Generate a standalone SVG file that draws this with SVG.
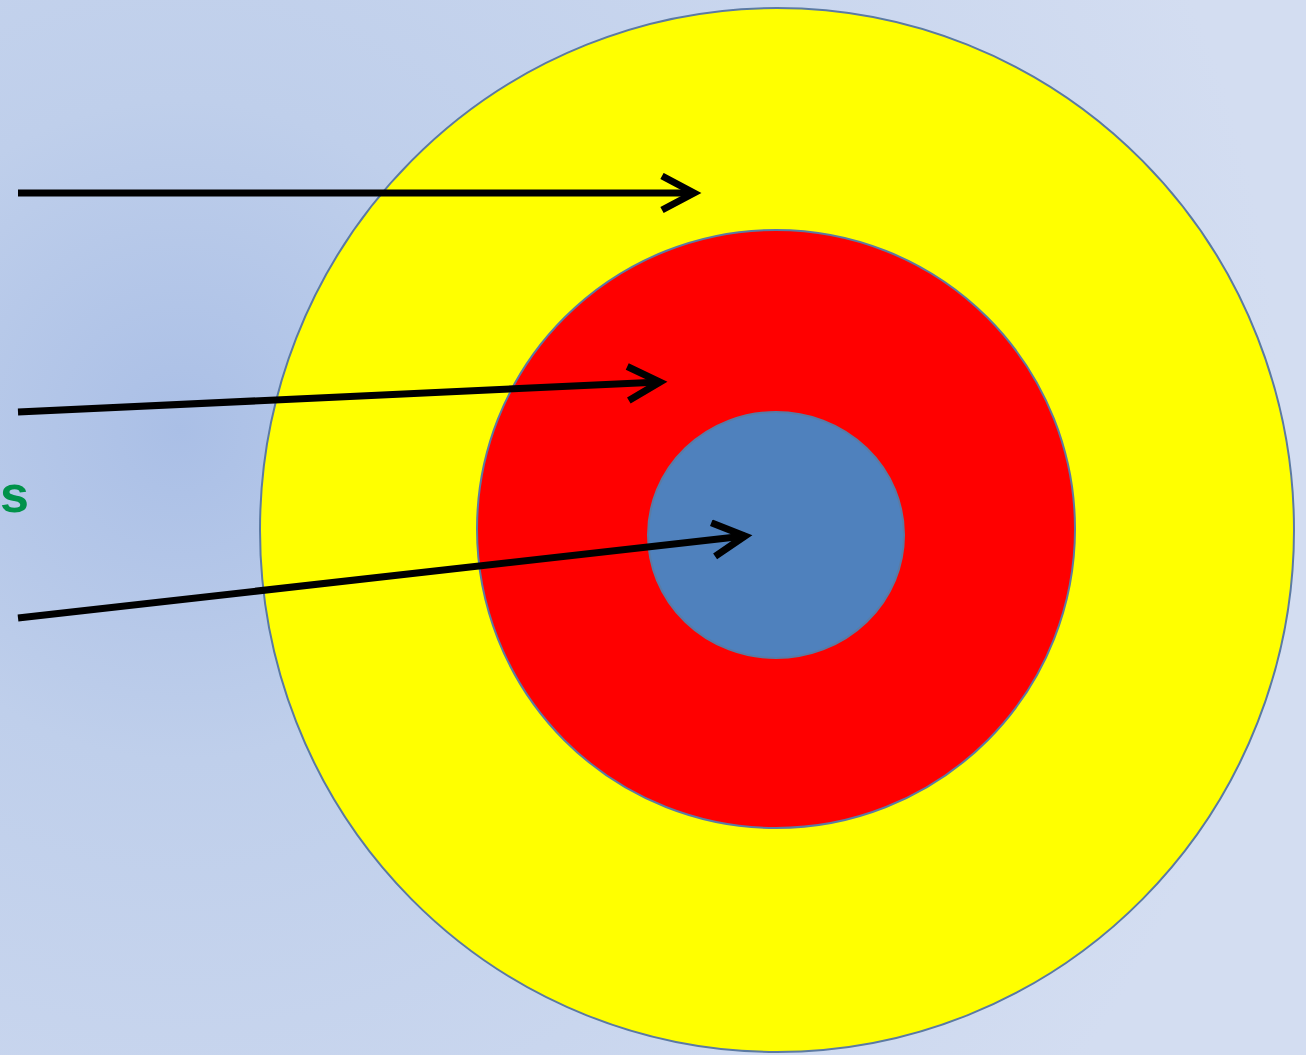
<svg xmlns="http://www.w3.org/2000/svg" width="1306" height="1055" viewBox="0 0 1306 1055">
<defs>
<radialGradient id="bg" cx="180" cy="430" r="1100" gradientUnits="userSpaceOnUse">
<stop offset="0" stop-color="#aabfe6"/>
<stop offset="0.3" stop-color="#bfcfeb"/>
<stop offset="1" stop-color="#d3ddf1"/>
</radialGradient>
<marker id="chev" markerUnits="userSpaceOnUse" markerWidth="50" markerHeight="50" refX="36" refY="20" orient="auto" viewBox="0 0 50 50">
<path d="M4 3 L36 20 L4 37" fill="none" stroke="#000" stroke-width="7" stroke-linejoin="miter"/>
</marker>
<style>
.ring{stroke:#5b7aa3;stroke-width:2}
.arrow{stroke:#000;stroke-width:7;fill:none;marker-end:url(#chev)}
.lbl{font-family:"Liberation Sans",Arial,sans-serif;font-weight:bold;fill:#00924a}
</style>
</defs>
<rect width="1306" height="1055" fill="url(#bg)"/>
<g id="outer"><ellipse class="ring" cx="777" cy="530" rx="517" ry="522" fill="#ffff00"/></g>
<g id="middle"><ellipse class="ring" cx="776" cy="529" rx="299" ry="299" fill="#ff0000"/></g>
<g id="inner"><ellipse class="ring" cx="776" cy="535" rx="128" ry="123" fill="#4f81bd"/></g>
<g id="label"><text class="lbl" x="0" y="512" font-size="52">s</text></g>
<g id="connectors">
<line class="arrow" x1="18" y1="193" x2="694" y2="193"/>
<line class="arrow" x1="18" y1="412" x2="660" y2="382"/>
<line class="arrow" x1="18" y1="618" x2="745" y2="536"/>
</g>
</svg>
